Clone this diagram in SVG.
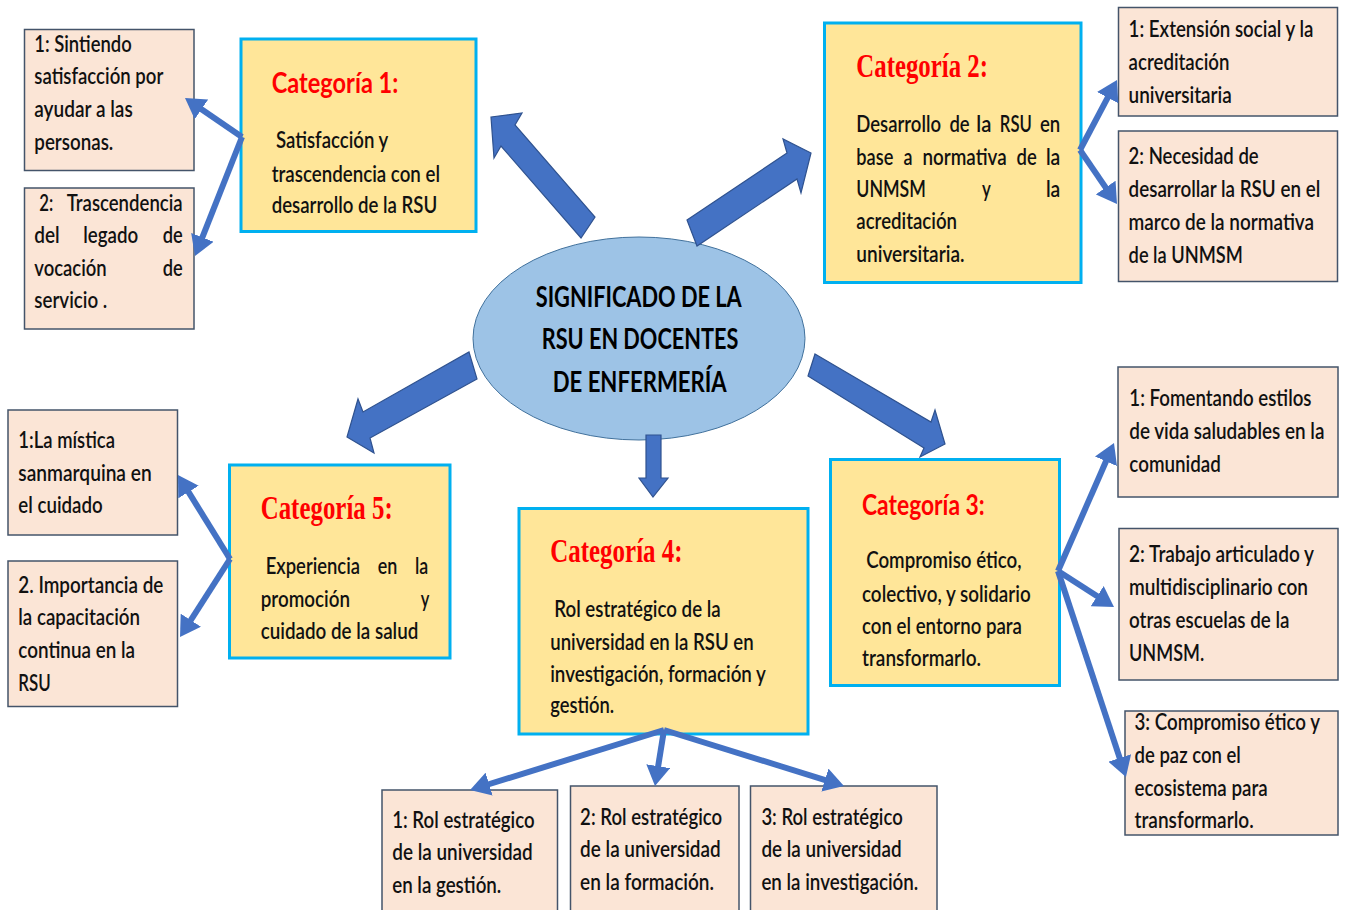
<svg xmlns="http://www.w3.org/2000/svg" width="1347" height="910" viewBox="0 0 1347 910">
<style>
.pk{fill:#FBE5D6;stroke:#44546A;stroke-width:1.5}
.yl{fill:#FFE699;stroke:#00B0F0;stroke-width:3}
.t{font-family:Lato,"Liberation Sans",sans-serif;font-size:16.3px;font-weight:600;fill:#111}
.cs{font-family:"Liberation Serif",serif;font-weight:bold;font-size:25px;fill:#FF0000}
.ca{font-family:Lato,"Liberation Sans",sans-serif;font-weight:bold;font-size:21.5px;fill:#FF0000}
.ti{font-family:Lato,"Liberation Sans",sans-serif;font-weight:bold;font-size:20.7px;fill:#000}
.blk{fill:#4472C4;stroke:#2F528F;stroke-width:1.2;stroke-linejoin:miter}
.ln{stroke:#4472C4;stroke-width:6;fill:none;marker-end:url(#ah)}
</style>
<defs>
<marker id="ah" viewBox="0 0 20 24" markerWidth="20" markerHeight="24" refX="8" refY="12" orient="auto" markerUnits="userSpaceOnUse">
<path d="M0,0 L20,12 L0,24 Z" fill="#4472C4"/>
</marker>
</defs>
<rect width="1347" height="910" fill="#fff"/>

<g id="center">
<ellipse cx="639" cy="338.5" rx="166" ry="101.5" fill="#9DC3E6" stroke="#41719C" stroke-width="1"/>
<text class="ti" transform="translate(535.7 306.7) scale(1 1.35)" textLength="206" lengthAdjust="spacingAndGlyphs">SIGNIFICADO DE LA</text>
<text class="ti" transform="translate(541.7 349.3) scale(1 1.35)" textLength="196.6" lengthAdjust="spacingAndGlyphs">RSU EN DOCENTES</text>
<text class="ti" transform="translate(552.7 391.7) scale(1 1.35)" textLength="174" lengthAdjust="spacingAndGlyphs">DE ENFERMERÍA</text>
</g>

<g id="c1s1">
<rect class="pk" x="24.5" y="29.5" width="169.5" height="141"/>
<text class="t" transform="translate(34.3 51.7) scale(1 1.35)" textLength="97.4" lengthAdjust="spacingAndGlyphs">1: Sintiendo</text>
<text class="t" transform="translate(34.3 84) scale(1 1.35)" textLength="129" lengthAdjust="spacingAndGlyphs">satisfacción por</text>
<text class="t" transform="translate(34.3 117.3) scale(1 1.35)" textLength="98.4" lengthAdjust="spacingAndGlyphs">ayudar a las</text>
<text class="t" transform="translate(34.3 150) scale(1 1.35)" textLength="79" lengthAdjust="spacingAndGlyphs">personas.</text>
</g>
<g id="c1s2">
<rect class="pk" x="24.5" y="188" width="169.5" height="141"/>
<text class="t" transform="translate(39.3 210.7) scale(1 1.35)" textLength="14" lengthAdjust="spacingAndGlyphs">2:</text>
<text class="t" transform="translate(66.7 210.7) scale(1 1.35)" textLength="116" lengthAdjust="spacingAndGlyphs">Trascendencia</text>
<text class="t" transform="translate(34.3 242.7) scale(1 1.35)" textLength="25.4" lengthAdjust="spacingAndGlyphs">del</text>
<text class="t" transform="translate(83.3 242.7) scale(1 1.35)" textLength="55" lengthAdjust="spacingAndGlyphs">legado</text>
<text class="t" transform="translate(162.7 242.7) scale(1 1.35)" textLength="20" lengthAdjust="spacingAndGlyphs">de</text>
<text class="t" transform="translate(34.3 276) scale(1 1.35)" textLength="72.4" lengthAdjust="spacingAndGlyphs">vocación</text>
<text class="t" transform="translate(162.7 276) scale(1 1.35)" textLength="20" lengthAdjust="spacingAndGlyphs">de</text>
<text class="t" transform="translate(34.3 308.3) scale(1 1.35)" textLength="73" lengthAdjust="spacingAndGlyphs">servicio .</text>
</g>
<g id="cat1">
<rect class="yl" x="241" y="39" width="235" height="192.5"/>
<text class="ca" transform="translate(271.7 92.7) scale(1 1.35)" textLength="126.6" lengthAdjust="spacingAndGlyphs">Categoría 1:</text>
<text class="t" transform="translate(276 148.3) scale(1 1.35)" textLength="112.3" lengthAdjust="spacingAndGlyphs">Satisfacción y</text>
<text class="t" transform="translate(271.7 181.7) scale(1 1.35)" textLength="168.3" lengthAdjust="spacingAndGlyphs">trascendencia con el</text>
<text class="t" transform="translate(271.7 212.7) scale(1 1.35)" textLength="165.6" lengthAdjust="spacingAndGlyphs">desarrollo de la RSU</text>
</g>

<g id="cat2">
<rect class="yl" x="824.5" y="23" width="256.5" height="259.5"/>
<text class="cs" transform="translate(856.3 77.3) scale(1 1.35)" textLength="131.7" lengthAdjust="spacingAndGlyphs">Categoría 2:</text>
<text class="t" transform="translate(856.3 131.7) scale(1 1.35)" textLength="84.7" lengthAdjust="spacingAndGlyphs">Desarrollo</text>
<text class="t" transform="translate(949.4 131.7) scale(1 1.35)" textLength="20.2" lengthAdjust="spacingAndGlyphs">de</text>
<text class="t" transform="translate(976.3 131.7) scale(1 1.35)" textLength="15.1" lengthAdjust="spacingAndGlyphs">la</text>
<text class="t" transform="translate(999.8 131.7) scale(1 1.35)" textLength="32" lengthAdjust="spacingAndGlyphs">RSU</text>
<text class="t" transform="translate(1040 131.7) scale(1 1.35)" textLength="20.3" lengthAdjust="spacingAndGlyphs">en</text>
<text class="t" transform="translate(856.3 165) scale(1 1.35)" textLength="37" lengthAdjust="spacingAndGlyphs">base</text>
<text class="t" transform="translate(903.4 165) scale(1 1.35)" textLength="9" lengthAdjust="spacingAndGlyphs">a</text>
<text class="t" transform="translate(922.5 165) scale(1 1.35)" textLength="84.1" lengthAdjust="spacingAndGlyphs">normativa</text>
<text class="t" transform="translate(1016.6 165) scale(1 1.35)" textLength="20.2" lengthAdjust="spacingAndGlyphs">de</text>
<text class="t" transform="translate(1045.9 165) scale(1 1.35)" textLength="14.4" lengthAdjust="spacingAndGlyphs">la</text>
<text class="t" transform="translate(856.3 196.7) scale(1 1.35)" textLength="69.6" lengthAdjust="spacingAndGlyphs">UNMSM</text>
<text class="t" transform="translate(982 196.7) scale(1 1.35)" textLength="8.8" lengthAdjust="spacingAndGlyphs">y</text>
<text class="t" transform="translate(1045.9 196.7) scale(1 1.35)" textLength="14.4" lengthAdjust="spacingAndGlyphs">la</text>
<text class="t" transform="translate(856.3 229.3) scale(1 1.35)" textLength="100.7" lengthAdjust="spacingAndGlyphs">acreditación</text>
<text class="t" transform="translate(856.3 261.7) scale(1 1.35)" textLength="108.2" lengthAdjust="spacingAndGlyphs">universitaria.</text>
</g>
<g id="c2s1">
<rect class="pk" x="1118.5" y="7.5" width="219" height="108.5"/>
<text class="t" transform="translate(1128.6 36.7) scale(1 1.35)" textLength="184.8" lengthAdjust="spacingAndGlyphs">1: Extensión social y la</text>
<text class="t" transform="translate(1128.6 70) scale(1 1.35)" textLength="100.8" lengthAdjust="spacingAndGlyphs">acreditación</text>
<text class="t" transform="translate(1128.6 102.7) scale(1 1.35)" textLength="103.2" lengthAdjust="spacingAndGlyphs">universitaria</text>
</g>
<g id="c2s2">
<rect class="pk" x="1118.5" y="131" width="219" height="150.5"/>
<text class="t" transform="translate(1128.6 164) scale(1 1.35)" textLength="130.1" lengthAdjust="spacingAndGlyphs">2: Necesidad de</text>
<text class="t" transform="translate(1128.6 196.7) scale(1 1.35)" textLength="191.6" lengthAdjust="spacingAndGlyphs">desarrollar la RSU en el</text>
<text class="t" transform="translate(1128.6 230) scale(1 1.35)" textLength="185.5" lengthAdjust="spacingAndGlyphs">marco de la normativa</text>
<text class="t" transform="translate(1128.6 262.7) scale(1 1.35)" textLength="114.3" lengthAdjust="spacingAndGlyphs">de la UNMSM</text>
</g>

<g id="c5s1">
<rect class="pk" x="8" y="410" width="169.5" height="125"/>
<text class="t" transform="translate(18.3 447.7) scale(1 1.35)" textLength="96.7" lengthAdjust="spacingAndGlyphs">1:La mística</text>
<text class="t" transform="translate(18.3 481) scale(1 1.35)" textLength="133.4" lengthAdjust="spacingAndGlyphs">sanmarquina en</text>
<text class="t" transform="translate(18.3 513.3) scale(1 1.35)" textLength="84.4" lengthAdjust="spacingAndGlyphs">el cuidado</text>
</g>
<g id="c5s2">
<rect class="pk" x="8" y="561" width="169.5" height="145.5"/>
<text class="t" transform="translate(18.3 592.7) scale(1 1.35)" textLength="145" lengthAdjust="spacingAndGlyphs">2. Importancia de</text>
<text class="t" transform="translate(18.3 625) scale(1 1.35)" textLength="121.7" lengthAdjust="spacingAndGlyphs">la capacitación</text>
<text class="t" transform="translate(18.3 657.7) scale(1 1.35)" textLength="116.7" lengthAdjust="spacingAndGlyphs">continua en la</text>
<text class="t" transform="translate(18.3 691) scale(1 1.35)" textLength="32.4" lengthAdjust="spacingAndGlyphs">RSU</text>
</g>
<g id="cat5">
<rect class="yl" x="229.5" y="465" width="220.5" height="193"/>
<text class="cs" transform="translate(260.7 519.3) scale(1 1.35)" textLength="132" lengthAdjust="spacingAndGlyphs">Categoría 5:</text>
<text class="t" transform="translate(265.7 574) scale(1 1.35)" textLength="94.3" lengthAdjust="spacingAndGlyphs">Experiencia</text>
<text class="t" transform="translate(377.7 574) scale(1 1.35)" textLength="19.6" lengthAdjust="spacingAndGlyphs">en</text>
<text class="t" transform="translate(415 574) scale(1 1.35)" textLength="13.3" lengthAdjust="spacingAndGlyphs">la</text>
<text class="t" transform="translate(260.7 607.3) scale(1 1.35)" textLength="89.3" lengthAdjust="spacingAndGlyphs">promoción</text>
<text class="t" transform="translate(420.7 607.3) scale(1 1.35)" textLength="8.6" lengthAdjust="spacingAndGlyphs">y</text>
<text class="t" transform="translate(260.7 639.3) scale(1 1.35)" textLength="157.6" lengthAdjust="spacingAndGlyphs">cuidado de la salud</text>
</g>

<g id="cat4">
<rect class="yl" x="519" y="508.5" width="289" height="225.5"/>
<text class="cs" transform="translate(550.2 561.7) scale(1 1.35)" textLength="132.4" lengthAdjust="spacingAndGlyphs">Categoría 4:</text>
<text class="t" transform="translate(554.2 616.7) scale(1 1.35)" textLength="166.5" lengthAdjust="spacingAndGlyphs">Rol estratégico de la</text>
<text class="t" transform="translate(550.2 650) scale(1 1.35)" textLength="203.4" lengthAdjust="spacingAndGlyphs">universidad en la RSU en</text>
<text class="t" transform="translate(550.2 681.7) scale(1 1.35)" textLength="215.7" lengthAdjust="spacingAndGlyphs">investigación, formación y</text>
<text class="t" transform="translate(550.2 713.3) scale(1 1.35)" textLength="64" lengthAdjust="spacingAndGlyphs">gestión.</text>
</g>
<g id="c4s1">
<rect class="pk" x="382" y="790" width="175.5" height="130"/>
<text class="t" transform="translate(392.2 828.3) scale(1 1.35)" textLength="142.4" lengthAdjust="spacingAndGlyphs">1: Rol estratégico</text>
<text class="t" transform="translate(392.2 860) scale(1 1.35)" textLength="140.6" lengthAdjust="spacingAndGlyphs">de la universidad</text>
<text class="t" transform="translate(392.2 893.3) scale(1 1.35)" textLength="109.1" lengthAdjust="spacingAndGlyphs">en la gestión.</text>
</g>
<g id="c4s2">
<rect class="pk" x="570.5" y="786" width="168.5" height="130"/>
<text class="t" transform="translate(580.1 825) scale(1 1.35)" textLength="142.1" lengthAdjust="spacingAndGlyphs">2: Rol estratégico</text>
<text class="t" transform="translate(580.1 857.3) scale(1 1.35)" textLength="140.6" lengthAdjust="spacingAndGlyphs">de la universidad</text>
<text class="t" transform="translate(580.1 890) scale(1 1.35)" textLength="133.9" lengthAdjust="spacingAndGlyphs">en la formación.</text>
</g>
<g id="c4s3">
<rect class="pk" x="750.5" y="786" width="186.5" height="130"/>
<text class="t" transform="translate(761.4 825) scale(1 1.35)" textLength="141.3" lengthAdjust="spacingAndGlyphs">3: Rol estratégico</text>
<text class="t" transform="translate(761.4 857.3) scale(1 1.35)" textLength="140.2" lengthAdjust="spacingAndGlyphs">de la universidad</text>
<text class="t" transform="translate(761.4 890) scale(1 1.35)" textLength="156.9" lengthAdjust="spacingAndGlyphs">en la investigación.</text>
</g>

<g id="cat3">
<rect class="yl" x="830.5" y="459.5" width="229" height="226"/>
<text class="ca" transform="translate(862 515) scale(1 1.35)" textLength="122.7" lengthAdjust="spacingAndGlyphs">Categoría 3:</text>
<text class="t" transform="translate(866.2 568.3) scale(1 1.35)" textLength="155.4" lengthAdjust="spacingAndGlyphs">Compromiso ético,</text>
<text class="t" transform="translate(862 601.7) scale(1 1.35)" textLength="168.7" lengthAdjust="spacingAndGlyphs">colectivo, y solidario</text>
<text class="t" transform="translate(862 634) scale(1 1.35)" textLength="160" lengthAdjust="spacingAndGlyphs">con el entorno para</text>
<text class="t" transform="translate(862 666) scale(1 1.35)" textLength="119" lengthAdjust="spacingAndGlyphs">transformarlo.</text>
</g>
<g id="c3s1">
<rect class="pk" x="1118" y="367" width="220" height="130"/>
<text class="t" transform="translate(1129.3 406) scale(1 1.35)" textLength="182.2" lengthAdjust="spacingAndGlyphs">1: Fomentando estilos</text>
<text class="t" transform="translate(1129.3 439.3) scale(1 1.35)" textLength="195.1" lengthAdjust="spacingAndGlyphs">de vida saludables en la</text>
<text class="t" transform="translate(1129.3 471.7) scale(1 1.35)" textLength="91.6" lengthAdjust="spacingAndGlyphs">comunidad</text>
</g>
<g id="c3s2">
<rect class="pk" x="1119" y="528.5" width="219" height="151.5"/>
<text class="t" transform="translate(1129 561.7) scale(1 1.35)" textLength="185" lengthAdjust="spacingAndGlyphs">2: Trabajo articulado y</text>
<text class="t" transform="translate(1129 595) scale(1 1.35)" textLength="179" lengthAdjust="spacingAndGlyphs">multidisciplinario con</text>
<text class="t" transform="translate(1129 628) scale(1 1.35)" textLength="160.5" lengthAdjust="spacingAndGlyphs">otras escuelas de la</text>
<text class="t" transform="translate(1129 661) scale(1 1.35)" textLength="75.2" lengthAdjust="spacingAndGlyphs">UNMSM.</text>
</g>
<g id="c3s3">
<rect class="pk" x="1125" y="711" width="213" height="124"/>
<text class="t" transform="translate(1134.5 730) scale(1 1.35)" textLength="185.5" lengthAdjust="spacingAndGlyphs">3: Compromiso ético y</text>
<text class="t" transform="translate(1134.5 763) scale(1 1.35)" textLength="106.3" lengthAdjust="spacingAndGlyphs">de paz con el</text>
<text class="t" transform="translate(1134.5 796) scale(1 1.35)" textLength="133.1" lengthAdjust="spacingAndGlyphs">ecosistema para</text>
<text class="t" transform="translate(1134.5 828) scale(1 1.35)" textLength="119.2" lengthAdjust="spacingAndGlyphs">transformarlo.</text>
</g>

<g id="connectors">
<polygon class="blk" points="491,117 522,113 515,125 595,217 581,238 501,146 494,158"/>
<polygon class="blk" points="687,220 787,153 783,139 811,153 801,193 797,179 697,246"/>
<polygon class="blk" points="469,352 477,379 370,438 374,453 347,437 358,399 363,412"/>
<polygon class="blk" points="646,435 661,435 661,478 668,478 653,497 639,478 646,478"/>
<polygon class="blk" points="815,354 931,422 935,410 945,444 920,457 924,448 808,376"/>
<line class="ln" x1="242" y1="137" x2="194.9" y2="104.8"/>
<line class="ln" x1="242" y1="137" x2="199.4" y2="244.8"/>
<line class="ln" x1="1080" y1="150" x2="1111.4" y2="90.6"/>
<line class="ln" x1="1080" y1="150" x2="1110.2" y2="194.1"/>
<line class="ln" x1="230" y1="559" x2="184.3" y2="485.2"/>
<line class="ln" x1="230" y1="559" x2="186.5" y2="626.9"/>
<line class="ln" x1="1058" y1="571" x2="1109.2" y2="454"/>
<line class="ln" x1="1058" y1="571" x2="1103.9" y2="600.5"/>
<line class="ln" x1="1058" y1="571" x2="1122.2" y2="765.6"/>
<line class="ln" x1="664" y1="730" x2="481.5" y2="786.5"/>
<line class="ln" x1="664" y1="730" x2="656.9" y2="774.1"/>
<line class="ln" x1="664" y1="730" x2="832.5" y2="782.4"/>
</g>
</svg>
